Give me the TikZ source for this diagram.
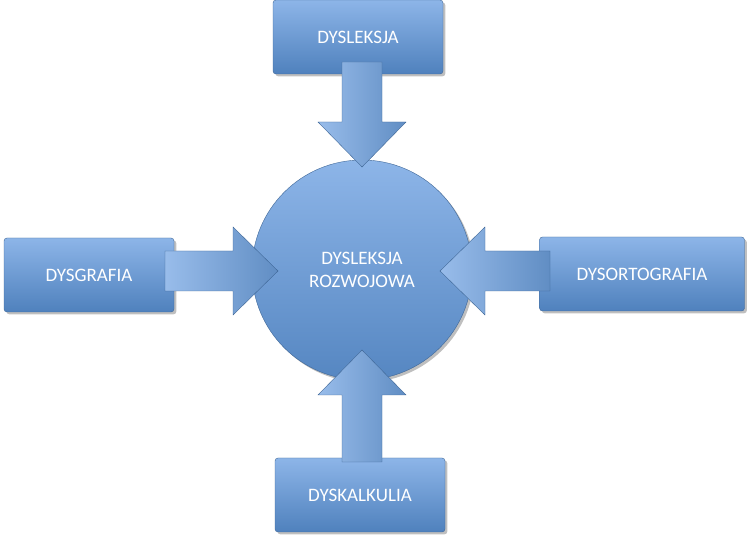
\documentclass[tikz,border=0pt]{standalone}
\usepackage{fontspec}
\setmainfont{Carlito}
\usetikzlibrary{shadows}
\definecolor{boxtop}{HTML}{8DB5E8}
\definecolor{boxbot}{HTML}{4F81BD}
\tikzset{
  dysbox/.style={draw=boxbot!80!black, rounded corners=3pt, top color=boxtop, bottom color=boxbot,
    minimum width=170pt, minimum height=74pt, text=white, font=\fontsize{19}{23}\selectfont, drop shadow},
  center/.style={circle, draw=boxbot!80!black, top color=boxtop, bottom color=boxbot!90!boxtop,
    minimum size=220pt, text=white, font=\fontsize{19}{23}\selectfont, align=center, drop shadow},
  blockarrow/.style={draw=boxbot!80!black, left color=boxtop!90!white, right color=boxbot!90!white}
}
% #1 start, #2 angle, #3 length
\newcommand{\fatarrow}[3]{%
  \begin{scope}[shift={#1}, rotate=#2]
    \draw[blockarrow] (0,-20) -- ({#3-45},-20) -- ({#3-45},-44) -- (#3,0)
      -- ({#3-45},44) -- ({#3-45},20) -- (0,20) -- cycle;
  \end{scope}}
\begin{document}
\begin{tikzpicture}[x=1pt,y=1pt]
  \useasboundingbox (0,0) rectangle (750,541);
  % boxes
  \node[dysbox] (dysleksja) at (358,504) {DYSLEKSJA};
  \node[dysbox] (dysgrafia) at (89,266) {DYSGRAFIA};
  \node[dysbox, minimum width=205pt] (dysorto) at (642,267) {DYSORTOGRAFIA};
  \node[dysbox] (dyskalk) at (360,46) {DYSKALKULIA};
  % centre
  \node[center] (rozwoj) at (362,271) {DYSLEKSJA\\ROZWOJOWA};
  % arrows
  \fatarrow{(362,479)}{-90}{105}
  \fatarrow{(165,270)}{0}{113}
  \fatarrow{(550,270)}{180}{110}
  \fatarrow{(362,79)}{90}{112}
\end{tikzpicture}
\end{document}
